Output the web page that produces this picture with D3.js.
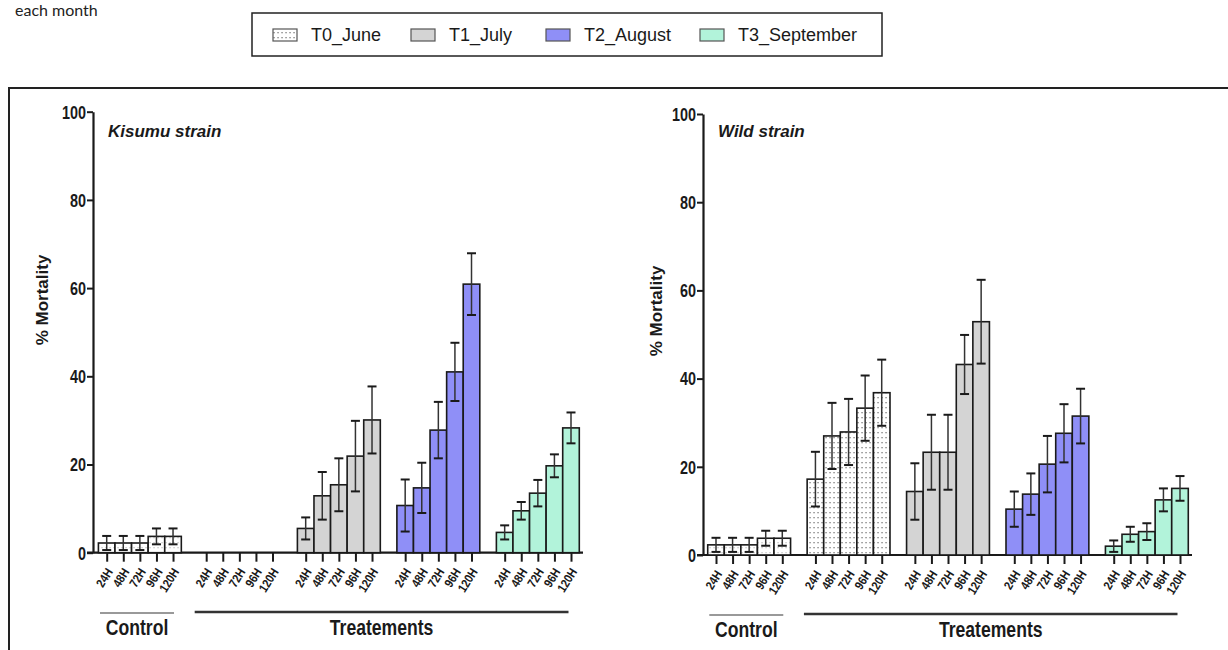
<!DOCTYPE html>
<html>
<head>
<meta charset="utf-8">
<script src="https://cdn.jsdelivr.net/npm/d3@7"></script>
<style>
  html, body { margin: 0; padding: 0; background: #fff; }
  svg { display: block; }
  .narrow { font-family: "Liberation Sans", Arial, sans-serif; font-weight: bold; }
  .sans { font-family: "Liberation Sans", Arial, sans-serif; }
</style>
</head>
<body>
<script>
// ---- data ----
const hours = ["24H", "48H", "72H", "96H", "120H"];
const groups = ["Control", "T0_June", "T1_July", "T2_August", "T3_September"];
const legendLabels = ["T0_June", "T1_July", "T2_August", "T3_September"];
const yTicks = [0, 20, 40, 60, 80, 100];

// Kisumu strain: mean % mortality and error per exposure time
const kisumuControl = [2.2, 2.2, 2.2, 3.7, 3.7];
const kisumuControlErr = [1.6, 1.6, 1.6, 1.8, 1.8];
const kisumuT0 = [0, 0, 0, 0, 0];
const kisumuT0Err = [0, 0, 0, 0, 0];
const kisumuT1 = [5.5, 12.9, 15.4, 21.9, 30.1];
const kisumuT1Err = [2.5, 5.4, 6.0, 8.0, 7.6];
const kisumuT2 = [10.7, 14.7, 27.8, 41.0, 60.9];
const kisumuT2Err = [5.9, 5.7, 6.4, 6.6, 7.0];
const kisumuT3 = [4.6, 9.5, 13.5, 19.7, 28.3];
const kisumuT3Err = [1.6, 2.0, 3.0, 2.6, 3.5];

// Wild strain
const wildControl = [2.3, 2.3, 2.3, 3.8, 3.8];
const wildControlErr = [1.6, 1.6, 1.6, 1.7, 1.7];
const wildT0 = [17.2, 27.0, 27.9, 33.3, 36.8];
const wildT0Err = [6.2, 7.5, 7.5, 7.4, 7.5];
const wildT1 = [14.4, 23.3, 23.3, 43.2, 52.9];
const wildT1Err = [6.4, 8.5, 8.5, 6.7, 9.5];
const wildT2 = [10.4, 13.8, 20.6, 27.6, 31.5];
const wildT2Err = [4.0, 4.7, 6.4, 6.6, 6.2];
const wildT3 = [2.0, 4.7, 5.3, 12.5, 15.1];
const wildT3Err = [1.3, 1.7, 1.9, 2.6, 2.8];

// ---- styling ----
const groupFills = ["url(#dotsLight)", "url(#dots)", "#d4d4d4", "#8f8ff7", "#b2f3da"];
const legendFills = ["url(#dots)", "#d4d4d4", "#8f8ff7", "#b2f3da"];
const ink = "#1a1a1a";
const squeeze = 0.8; // horizontal compression for the condensed axis lettering

const W = 1228, H = 650;
const svg = d3.select("body").append("svg").attr("width", W).attr("height", H);

const defs = svg.append("defs");
function dotPattern(id, color) {
  const p = defs.append("pattern").attr("id", id)
    .attr("patternUnits", "userSpaceOnUse").attr("width", 4).attr("height", 5);
  p.append("rect").attr("width", 4).attr("height", 5).attr("fill", "#fff");
  p.append("rect").attr("x", 1.4).attr("y", 2).attr("width", 1.3).attr("height", 1.3).attr("fill", color);
}
dotPattern("dots", "#7a7a7a");
dotPattern("dotsLight", "#c4c4c4");

// caption fragment and legend
svg.append("text").attr("x", 15).attr("y", 16)
  .style("font-family", "Lato, 'Noto Sans', sans-serif").style("font-size", "16px")
  .attr("fill", "#222").text("each month");

const legend = svg.append("g");
legend.append("rect").attr("x", 252).attr("y", 13).attr("width", 630).attr("height", 43)
  .attr("fill", "#fff").attr("stroke", "#222").attr("stroke-width", 1.5);
const legendX = [273, 411, 546, 700];
legendLabels.forEach((lab, i) => {
  legend.append("rect").attr("x", legendX[i]).attr("y", 29).attr("width", 24).attr("height", 12)
    .attr("fill", legendFills[i]).attr("stroke", "#555").attr("stroke-width", 1.2);
  legend.append("text").attr("class", "sans").attr("x", legendX[i] + 38).attr("y", 41)
    .style("font-size", "18px").attr("fill", ink).text(lab);
});

// outer frame around both panels
svg.append("rect").attr("x", 9).attr("y", 88).attr("width", 1240).attr("height", 620)
  .attr("fill", "none").attr("stroke", "#222").attr("stroke-width", 2);

function narrowText(sel, x, y, size, txt) {
  return sel.append("text").attr("class", "narrow")
    .attr("transform", `translate(${x},${y}) scale(${squeeze},1)`)
    .attr("text-anchor", "middle").style("font-size", size + "px").attr("fill", ink).text(txt);
}

function panel(cfg) {
  const g = svg.append("g");
  const y = d3.scaleLinear().domain([0, 100]).range([cfg.y0, cfg.y100]);
  const x = d3.scaleLinear().domain([0, 28]).range([cfg.xFirst, cfg.xLast]);
  const step = x(1) - x(0);
  const slots = [];
  groups.forEach((grp, gi) => hours.forEach((hr, hi) => slots.push({
    slot: gi * 6 + hi, hour: hr, gi: gi,
    v: cfg.means[gi][hi], e: cfg.errs[gi][hi]
  })));

  // x axis baseline and ticks
  g.append("line").attr("x1", cfg.axisX - 6).attr("x2", cfg.xEnd)
    .attr("y1", y(0)).attr("y2", y(0)).attr("stroke", ink).attr("stroke-width", 2.2);
  const xa = g.append("g").attr("transform", `translate(0,${y(0)})`)
    .call(d3.axisBottom(x).tickValues(slots.map(d => d.slot)).tickSize(9).tickSizeOuter(0)
      .tickFormat(s => hours[s % 6]));
  xa.select(".domain").remove();
  xa.selectAll(".tick line").attr("stroke", ink).attr("stroke-width", 2);
  xa.selectAll(".tick text")
    .attr("class", "narrow").style("font-size", "12.5px").attr("fill", ink)
    .attr("text-anchor", "end").attr("y", 0).attr("dy", 0)
    .attr("transform", `translate(6,19) rotate(-58) scale(0.85,1)`);

  // bars
  const bars = slots.filter(d => d.v > 0);
  g.selectAll("rect.bar").data(bars).join("rect").attr("class", "bar")
    .attr("x", d => x(d.slot) - step / 2).attr("width", step)
    .attr("y", d => y(d.v)).attr("height", d => y(0) - y(d.v))
    .attr("fill", d => groupFills[d.gi]).attr("stroke", ink).attr("stroke-width", 1.6);

  // error bars
  const eb = g.selectAll("g.err").data(bars).join("g").attr("class", "err");
  eb.append("line").attr("x1", d => x(d.slot)).attr("x2", d => x(d.slot))
    .attr("y1", d => y(d.v + d.e)).attr("y2", d => y(Math.max(0, d.v - d.e)))
    .attr("stroke", "#333").attr("stroke-width", 1.5);
  eb.append("line").attr("x1", d => x(d.slot) - 4.5).attr("x2", d => x(d.slot) + 4.5)
    .attr("y1", d => y(d.v + d.e)).attr("y2", d => y(d.v + d.e))
    .attr("stroke", ink).attr("stroke-width", 2);
  eb.append("line").attr("x1", d => x(d.slot) - 4.5).attr("x2", d => x(d.slot) + 4.5)
    .attr("y1", d => y(Math.max(0, d.v - d.e))).attr("y2", d => y(Math.max(0, d.v - d.e)))
    .attr("stroke", ink).attr("stroke-width", 2);

  // y axis
  const ya = g.append("g").attr("transform", `translate(${cfg.axisX},0)`)
    .call(d3.axisLeft(y).tickValues(yTicks).tickSize(6).tickSizeOuter(0));
  ya.select(".domain").attr("stroke", ink).attr("stroke-width", 2.2);
  ya.selectAll(".tick line").attr("stroke", ink).attr("stroke-width", 2);
  ya.selectAll(".tick text").attr("class", "narrow").style("font-size", "18px")
    .attr("fill", ink).attr("x", 0).attr("dy", "0.35em")
    .attr("transform", `translate(-7,0) scale(${squeeze},1)`);

  // axis title
  g.append("text").attr("class", "sans")
    .attr("transform", `translate(${cfg.titleX},${cfg.titleY}) rotate(-90)`)
    .attr("text-anchor", "middle").style("font-size", "17px").style("font-weight", "bold")
    .attr("fill", ink).text("% Mortality");

  // panel name
  g.append("text").attr("class", "sans").attr("x", cfg.axisX + 15).attr("y", 137)
    .style("font-size", "17px").style("font-weight", "bold").style("font-style", "italic")
    .attr("fill", ink).text(cfg.name);

  // group brackets
  const ctrlL = x(0) - 6.7, ctrlR = x(4) + 1;
  g.append("line").attr("x1", ctrlL).attr("x2", ctrlR).attr("y1", cfg.lineY + 1).attr("y2", cfg.lineY + 1)
    .attr("stroke", "#777").attr("stroke-width", 1.6);
  narrowText(g, (ctrlL + ctrlR) / 2, cfg.lineY + 23, 22, "Control");
  const trL = x(6) - 11.5, trR = x(28) - 2.5;
  g.append("line").attr("x1", trL).attr("x2", trR).attr("y1", cfg.lineY).attr("y2", cfg.lineY)
    .attr("stroke", "#333").attr("stroke-width", 2.4);
  narrowText(g, (trL + trR) / 2, cfg.lineY + 23, 22, "Treatements");
}

panel({
  name: "Kisumu strain",
  axisX: 93, xFirst: 106.7, xLast: 571, xEnd: 583,
  y0: 552.7, y100: 111.7, titleX: 48, titleY: 300, lineY: 612,
  means: [kisumuControl, kisumuT0, kisumuT1, kisumuT2, kisumuT3],
  errs: [kisumuControlErr, kisumuT0Err, kisumuT1Err, kisumuT2Err, kisumuT3Err]
});
panel({
  name: "Wild strain",
  axisX: 703, xFirst: 716, xLast: 1180, xEnd: 1192,
  y0: 555, y100: 114, titleX: 662, titleY: 311, lineY: 614,
  means: [wildControl, wildT0, wildT1, wildT2, wildT3],
  errs: [wildControlErr, wildT0Err, wildT1Err, wildT2Err, wildT3Err]
});
</script>
</body>
</html>
